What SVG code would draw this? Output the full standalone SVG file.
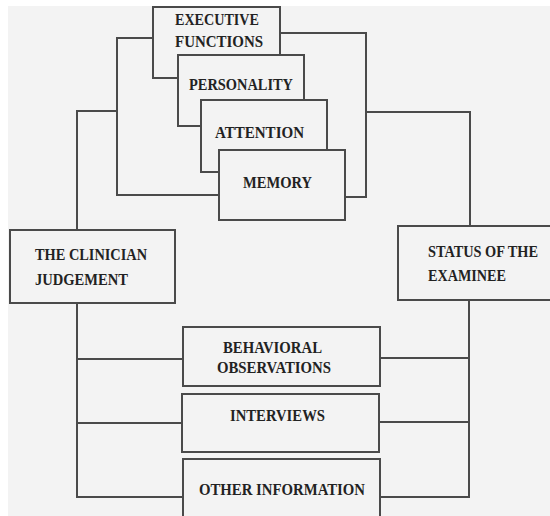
<svg xmlns="http://www.w3.org/2000/svg" width="550" height="516" viewBox="0 0 550 516">
<style>
.bg{fill:#f3f3f3}
.box{fill:#f3f3f3;stroke:#4a4a4a;stroke-width:2}
.ln{fill:none;stroke:#4a4a4a;stroke-width:2}
text{font-family:"Liberation Serif","Times New Roman",serif;font-weight:bold;font-size:16px;fill:#222222}
</style>
<rect x="0" y="0" width="550" height="516" fill="#ffffff"/>
<rect class="bg" x="8" y="6" width="542" height="510"/>
<g id="connectors">
<path class="ln" d="M153,38 H117 V195 H219"/>
<path class="ln" d="M117,111 H77 V230"/>
<path class="ln" d="M280,33 H366 V197 H345"/>
<path class="ln" d="M366,112 H470 V226"/>
<path class="ln" d="M77,303 V497 H183"/>
<path class="ln" d="M77,359 H183"/>
<path class="ln" d="M77,423 H182"/>
<path class="ln" d="M469,300 V497 H380"/>
<path class="ln" d="M469,358 H380"/>
<path class="ln" d="M469,422 H379"/>
</g>
<g id="executive">
<rect class="box" x="153" y="7" width="127" height="71"/>
<text x="175" y="25" textLength="84" lengthAdjust="spacingAndGlyphs">EXECUTIVE</text>
<text x="175" y="47" textLength="88" lengthAdjust="spacingAndGlyphs">FUNCTIONS</text>
</g>
<g id="personality">
<rect class="box" x="178" y="55" width="126" height="71"/>
<text x="189" y="90" textLength="104" lengthAdjust="spacingAndGlyphs">PERSONALITY</text>
</g>
<g id="attention">
<rect class="box" x="201" y="100" width="126" height="72"/>
<text x="215" y="138" textLength="89" lengthAdjust="spacingAndGlyphs">ATTENTION</text>
</g>
<g id="memory">
<rect class="box" x="219" y="150" width="126" height="70"/>
<text x="243" y="188" textLength="69" lengthAdjust="spacingAndGlyphs">MEMORY</text>
</g>
<g id="clinician">
<rect class="box" x="10" y="230" width="165" height="73"/>
<text x="35" y="260" textLength="112" lengthAdjust="spacingAndGlyphs">THE CLINICIAN</text>
<text x="35" y="285" textLength="93" lengthAdjust="spacingAndGlyphs">JUDGEMENT</text>
</g>
<g id="status">
<rect class="box" x="398" y="226" width="160" height="74"/>
<text x="428" y="257" textLength="110" lengthAdjust="spacingAndGlyphs">STATUS OF THE</text>
<text x="428" y="281" textLength="78" lengthAdjust="spacingAndGlyphs">EXAMINEE</text>
</g>
<g id="behavioral">
<rect class="box" x="183" y="327" width="197" height="59"/>
<text x="223" y="353" textLength="99" lengthAdjust="spacingAndGlyphs">BEHAVIORAL</text>
<text x="217" y="373" textLength="114" lengthAdjust="spacingAndGlyphs">OBSERVATIONS</text>
</g>
<g id="interviews">
<rect class="box" x="182" y="394" width="197" height="58"/>
<text x="230" y="421" textLength="95" lengthAdjust="spacingAndGlyphs">INTERVIEWS</text>
</g>
<g id="other">
<rect class="box" x="183" y="459" width="197" height="62"/>
<text x="199" y="495" textLength="166" lengthAdjust="spacingAndGlyphs">OTHER INFORMATION</text>
</g>
</svg>
